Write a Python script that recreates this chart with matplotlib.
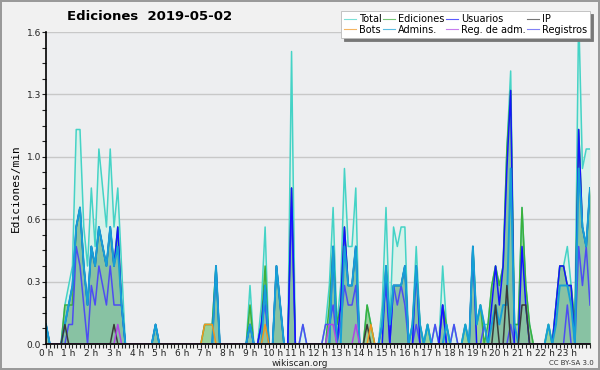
import numpy as np
import matplotlib
matplotlib.use('Agg')
import matplotlib.pyplot as plt
from matplotlib.ticker import MultipleLocator, FixedLocator

# =============================================================================
# Data: edits per minute, 10 minute buckets over the day (145 points, 0h..24h)
# =============================================================================
total = [0.1, 0, 0, 0, 0, 0.2, 0.3, 0.4, 1.1, 1.1, 0.6, 0.4,
         0.8, 0.5, 1.0, 0.8, 0.6, 1.0, 0.6, 0.8, 0.4, 0, 0, 0,
         0, 0, 0, 0, 0, 0.1, 0, 0, 0, 0, 0, 0,
         0, 0, 0, 0, 0, 0, 0.1, 0.1, 0.1, 0.4, 0, 0,
         0, 0, 0, 0, 0, 0, 0.3, 0, 0, 0.2, 0.6, 0,
         0, 0.4, 0.2, 0, 0, 1.5, 0, 0, 0.1, 0, 0, 0,
         0, 0, 0.1, 0.3, 0.7, 0.1, 0.3, 0.9, 0.5, 0.5, 0.8, 0,
         0, 0.2, 0.1, 0, 0, 0.2, 0.7, 0.1, 0.6, 0.5, 0.6, 0.6,
         0, 0.1, 0.5, 0.1, 0, 0.1, 0, 0.1, 0, 0.4, 0.1, 0,
         0.1, 0, 0, 0.1, 0, 0.5, 0.1, 0.2, 0.1, 0.1, 0.3, 0.4,
         0.3, 0.4, 1.0, 1.4, 0.1, 0.1, 0.7, 0.3, 0.1, 0, 0, 0,
         0, 0.1, 0, 0.2, 0.4, 0.4, 0.5, 0.3, 0.1, 1.7, 0.9, 1.0,
         1.0]
ediciones = [0.1, 0, 0, 0, 0, 0.2, 0.2, 0.2, 0.6, 0.7, 0.4, 0.2,
             0.5, 0.4, 0.6, 0.5, 0.4, 0.6, 0.4, 0.6, 0.2, 0, 0, 0,
             0, 0, 0, 0, 0, 0.1, 0, 0, 0, 0, 0, 0,
             0, 0, 0, 0, 0, 0, 0.1, 0.1, 0.1, 0.4, 0, 0,
             0, 0, 0, 0, 0, 0, 0.2, 0, 0, 0.1, 0.4, 0,
             0, 0.4, 0.2, 0, 0, 0.8, 0, 0, 0, 0, 0, 0,
             0, 0, 0, 0.2, 0.5, 0.1, 0.2, 0.6, 0.3, 0.3, 0.5, 0,
             0, 0.2, 0.1, 0, 0, 0.1, 0.4, 0.1, 0.3, 0.3, 0.3, 0.4,
             0, 0.1, 0.4, 0.1, 0, 0.1, 0, 0, 0, 0.2, 0.1, 0,
             0, 0, 0, 0.1, 0, 0.5, 0.1, 0.2, 0, 0.1, 0.3, 0.4,
             0.3, 0.4, 1.0, 1.3, 0.1, 0.1, 0.7, 0.3, 0.1, 0, 0, 0,
             0, 0.1, 0, 0.2, 0.4, 0.4, 0.3, 0.3, 0.1, 1.1, 0.6, 0.5,
             0.8]
usuarios = [0.1, 0, 0, 0, 0, 0.1, 0.2, 0.3, 0.6, 0.7, 0.4, 0.2,
            0.5, 0.4, 0.6, 0.5, 0.4, 0.6, 0.4, 0.6, 0.2, 0, 0, 0,
            0, 0, 0, 0, 0, 0.1, 0, 0, 0, 0, 0, 0,
            0, 0, 0, 0, 0, 0, 0, 0, 0, 0.4, 0, 0,
            0, 0, 0, 0, 0, 0, 0.1, 0, 0, 0.1, 0.3, 0,
            0, 0.4, 0.2, 0, 0, 0.8, 0, 0, 0, 0, 0, 0,
            0, 0, 0, 0, 0.5, 0, 0.2, 0.6, 0.3, 0.3, 0.5, 0,
            0, 0, 0, 0, 0, 0, 0.4, 0, 0.3, 0.3, 0.3, 0.4,
            0, 0, 0.4, 0, 0, 0, 0, 0, 0, 0.2, 0, 0,
            0, 0, 0, 0, 0, 0.5, 0, 0, 0, 0, 0.2, 0.4,
            0.2, 0.4, 0.9, 1.3, 0, 0, 0.5, 0.2, 0, 0, 0, 0,
            0, 0, 0, 0.2, 0.4, 0.4, 0.3, 0.3, 0, 1.1, 0.6, 0.5,
            0.8]
admins = [0.1, 0, 0, 0, 0, 0.1, 0.2, 0.3, 0.6, 0.7, 0.4, 0.2,
          0.5, 0.4, 0.6, 0.5, 0.4, 0.6, 0.4, 0.5, 0.2, 0, 0, 0,
          0, 0, 0, 0, 0, 0.1, 0, 0, 0, 0, 0, 0,
          0, 0, 0, 0, 0, 0, 0, 0, 0, 0.4, 0, 0,
          0, 0, 0, 0, 0, 0, 0.1, 0, 0, 0, 0.3, 0,
          0, 0.4, 0.2, 0, 0, 0, 0, 0, 0, 0, 0, 0,
          0, 0, 0, 0, 0.5, 0, 0, 0.5, 0.3, 0.3, 0.5, 0,
          0, 0, 0, 0, 0, 0.1, 0.4, 0.1, 0.3, 0.3, 0.3, 0.4,
          0, 0.1, 0.4, 0.1, 0, 0.1, 0, 0, 0, 0, 0.1, 0,
          0, 0, 0, 0.1, 0, 0.5, 0.1, 0.2, 0.1, 0, 0.1, 0.2,
          0.1, 0.2, 0.2, 0.9, 0.1, 0, 0, 0, 0, 0, 0, 0,
          0, 0.1, 0, 0.1, 0.3, 0.3, 0.3, 0.2, 0, 0.9, 0.6, 0.5,
          0.8]
registros = [0, 0, 0, 0, 0, 0, 0.1, 0.1, 0.5, 0.4, 0.2, 0,
             0.3, 0.2, 0.4, 0.3, 0.2, 0.4, 0.2, 0.2, 0.2, 0, 0, 0,
             0, 0, 0, 0, 0, 0, 0, 0, 0, 0, 0, 0,
             0, 0, 0, 0, 0, 0, 0, 0, 0, 0, 0, 0,
             0, 0, 0, 0, 0, 0, 0.1, 0, 0, 0.1, 0.2, 0,
             0, 0, 0, 0, 0, 0.7, 0, 0, 0.1, 0, 0, 0,
             0, 0, 0.1, 0.1, 0.2, 0, 0.1, 0.3, 0.2, 0.2, 0.3, 0,
             0, 0, 0, 0, 0, 0.1, 0.3, 0, 0.3, 0.2, 0.3, 0.2,
             0, 0, 0.1, 0, 0, 0, 0, 0.1, 0, 0.2, 0, 0,
             0.1, 0, 0, 0, 0, 0, 0, 0, 0.1, 0, 0, 0,
             0, 0, 0, 0.1, 0, 0, 0, 0, 0, 0, 0, 0,
             0, 0, 0, 0, 0, 0, 0.2, 0, 0, 0.5, 0.3, 0.5,
             0.2]
ip = [0, 0, 0, 0, 0, 0.1, 0, 0, 0, 0, 0, 0,
      0, 0, 0, 0, 0, 0, 0.1, 0, 0, 0, 0, 0,
      0, 0, 0, 0, 0, 0, 0, 0, 0, 0, 0, 0,
      0, 0, 0, 0, 0, 0, 0, 0, 0, 0, 0, 0,
      0, 0, 0, 0, 0, 0, 0, 0, 0, 0, 0, 0,
      0, 0, 0, 0, 0, 0, 0, 0, 0, 0, 0, 0,
      0, 0, 0, 0, 0, 0, 0, 0, 0, 0, 0, 0,
      0, 0.1, 0, 0, 0, 0, 0, 0, 0, 0, 0, 0,
      0, 0, 0, 0, 0, 0, 0, 0, 0, 0, 0, 0,
      0, 0, 0, 0, 0, 0, 0, 0, 0, 0, 0, 0.2,
      0, 0, 0.3, 0, 0, 0, 0.2, 0.2, 0, 0, 0, 0,
      0, 0, 0, 0, 0, 0, 0, 0, 0, 0, 0, 0,
      0]
bots = [0, 0, 0, 0, 0, 0, 0, 0, 0, 0, 0, 0,
        0, 0, 0, 0, 0, 0, 0, 0, 0, 0, 0, 0,
        0, 0, 0, 0, 0, 0, 0, 0, 0, 0, 0, 0,
        0, 0, 0, 0, 0, 0, 0.1, 0.1, 0.1, 0, 0, 0,
        0, 0, 0, 0, 0, 0, 0, 0, 0, 0, 0.1, 0,
        0, 0, 0, 0, 0, 0, 0, 0, 0, 0, 0, 0,
        0, 0, 0, 0, 0, 0, 0, 0, 0, 0, 0, 0,
        0, 0, 0.1, 0, 0, 0, 0, 0, 0, 0, 0, 0,
        0, 0, 0, 0, 0, 0, 0, 0, 0, 0, 0, 0,
        0, 0, 0, 0, 0, 0, 0, 0, 0, 0, 0, 0,
        0, 0, 0, 0, 0, 0, 0, 0, 0, 0, 0, 0,
        0, 0, 0, 0, 0, 0, 0, 0, 0, 0, 0, 0,
        0]
reg_adm = [0, 0, 0, 0, 0, 0, 0, 0, 0, 0, 0, 0,
           0, 0, 0, 0, 0, 0, 0, 0.1, 0, 0, 0, 0,
           0, 0, 0, 0, 0, 0, 0, 0, 0, 0, 0, 0,
           0, 0, 0, 0, 0, 0, 0, 0, 0, 0, 0, 0,
           0, 0, 0, 0, 0, 0, 0, 0, 0, 0, 0, 0,
           0, 0, 0, 0, 0, 0, 0, 0, 0, 0, 0, 0,
           0, 0, 0, 0.1, 0.1, 0, 0, 0, 0, 0, 0.1, 0,
           0, 0, 0, 0, 0, 0, 0, 0, 0, 0, 0, 0,
           0, 0, 0, 0, 0, 0, 0, 0, 0, 0, 0, 0,
           0, 0, 0, 0, 0, 0, 0, 0, 0, 0, 0, 0,
           0, 0, 0, 0, 0, 0, 0, 0, 0, 0, 0, 0,
           0, 0, 0, 0, 0, 0, 0, 0, 0, 0, 0, 0,
           0]

hours = np.arange(len(total)) / 6.0
hour_labels = [str(h) + ' h' for h in range(24)]
y_ticks = [0, 0.32, 0.64, 0.96, 1.28, 1.6]
y_labels = ['0.0', '0.3', '0.6', '1.0', '1.3', '1.6']

# =============================================================================
# Plot
# =============================================================================
fig = plt.figure(figsize=(6, 3.7), dpi=100, facecolor='#f1f1f1',
                 edgecolor='#9a9a9a', linewidth=1.5)
ax = fig.add_axes([46/600, 26/370, 544/600, 312/370])
ax.set_facecolor('#edeef0')

ax.fill_between(hours, 0, total, color='#d9f1ea', lw=0, zorder=1)
ax.fill_between(hours, 0, ediciones, color='#9ad19a', lw=0, zorder=2)
ax.fill_between(hours, 0, usuarios, color='#88c2a3', lw=0, zorder=3)

lw = 1.1
l_total, = ax.plot(hours, total, color='#45d3c6', lw=lw, zorder=4, label='Total')
l_ed, = ax.plot(hours, ediciones, color='#3cb03c', lw=lw, zorder=5, label='Ediciones')
l_reg, = ax.plot(hours, registros, color='#4d4df2', lw=lw, zorder=6, label='Registros')
l_us, = ax.plot(hours, usuarios, color='#1414ff', lw=lw, zorder=7, label='Usuarios')
l_adm, = ax.plot(hours, admins, color='#16a0d6', lw=1.4, zorder=8, label='Admins.')
l_ip, = ax.plot(hours, ip, color='#3a3a3a', lw=lw, zorder=9, label='IP')
l_bots, = ax.plot(hours, bots, color='#f0961e', lw=lw, zorder=10, label='Bots')
l_ra, = ax.plot(hours, reg_adm, color='#b046e6', lw=lw, zorder=11, label='Reg. de adm.')

ax.set_xlim(0, 24)
ax.set_ylim(0, 1.6)
ax.xaxis.set_major_locator(FixedLocator(range(24)))
ax.set_xticklabels(hour_labels)
ax.xaxis.set_minor_locator(MultipleLocator(1/6))
ax.set_yticks(y_ticks)
ax.set_yticklabels(y_labels)
ax.yaxis.set_minor_locator(MultipleLocator(0.08))
ax.tick_params(axis='both', which='major', labelsize=6.5, length=3, width=0.8,
               colors='#222222', pad=0.5)
ax.tick_params(axis='both', which='minor', length=3, width=0.8, color='#222222')
ax.grid(axis='y', which='major', color='#c8c8c8', lw=1)
ax.set_axisbelow(True)
for s in ['top', 'right']:
    ax.spines[s].set_visible(False)
for s in ['left', 'bottom']:
    ax.spines[s].set_linewidth(1.2)
    ax.spines[s].set_zorder(12)

ax.set_ylabel('Ediciones/min', family='DejaVu Sans Mono', fontsize=8, labelpad=4)
fig.text(150/600, 1 - 16/370, 'Ediciones  2019-05-02', ha='center', va='center',
         fontsize=9.5, fontweight='bold')
fig.text(300/600, 1 - 363/370, 'wikiscan.org', ha='center', va='center',
         fontsize=6.5, color='#222222')
fig.text(594/600, 1 - 363/370, 'CC BY-SA 3.0', ha='right', va='center',
         fontsize=5, color='#333333')

handles = [l_total, l_bots, l_ed, l_adm, l_us, l_ra, l_ip, l_reg]
leg = fig.legend(handles=handles, ncol=4, loc='upper right',
                 bbox_to_anchor=(590/600, 1 - 11/370), fontsize=7,
                 frameon=True, fancybox=False, shadow={'color': '#777777', 'alpha': 1},
                 handlelength=1.2, handletextpad=0.3, columnspacing=0.2,
                 labelspacing=0.1, borderpad=0.3, borderaxespad=0)
leg.get_frame().set_edgecolor('#bbbbbb')
leg.get_frame().set_linewidth(0.6)
for h in leg.legend_handles:
    h.set_linewidth(0.8)
    h.set_alpha(0.7)

fig.savefig('out.png', dpi=100, facecolor=fig.get_facecolor(),
            edgecolor=fig.get_edgecolor())
